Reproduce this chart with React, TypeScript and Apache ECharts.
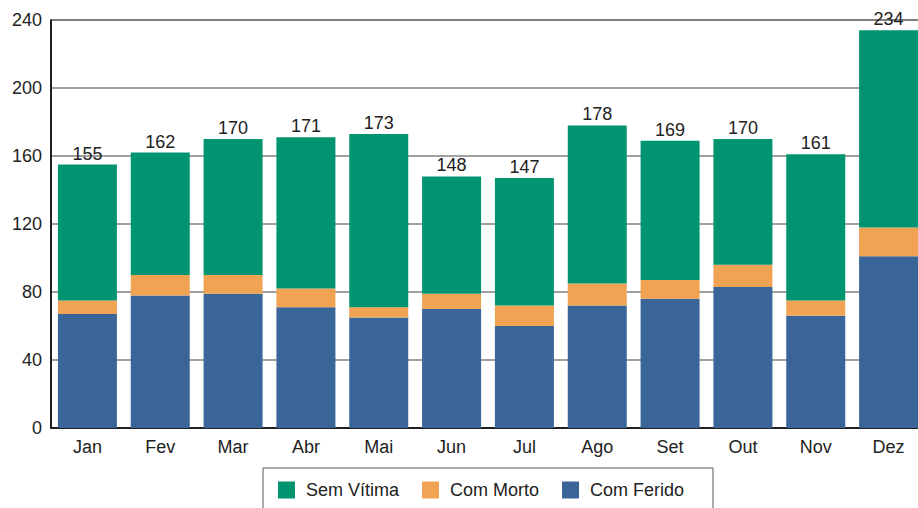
import React, { useEffect, useRef } from "react";
import * as echarts from "echarts";

const months = ["Jan", "Fev", "Mar", "Abr", "Mai", "Jun", "Jul", "Ago", "Set", "Out", "Nov", "Dez"];
const comFerido = [67, 78, 79, 71, 65, 70, 60, 72, 76, 83, 66, 101];
const comMorto = [8, 12, 11, 11, 6, 9, 12, 13, 11, 13, 9, 17];
const semVitima = [80, 72, 80, 89, 102, 69, 75, 93, 82, 74, 86, 116];
const yTicks = { min: 0, max: 240, interval: 40 };

const totals = months.map((_, i) => comFerido[i] + comMorto[i] + semVitima[i]);

const FONT = "'Liberation Sans', Arial, sans-serif";

export default function App() {
  const ref = useRef<HTMLDivElement>(null);
  useEffect(() => {
    if (!ref.current) return;
    const chart = echarts.init(ref.current, null, { renderer: "svg" });
    chart.setOption({
      animation: false,
      backgroundColor: "#fff",
      textStyle: { fontFamily: FONT },
      grid: {
        left: 51,
        top: 20,
        right: -7,
        bottom: 80,
        outerBoundsMode: "none",
        containLabel: false,
        show: true,
        borderColor: "#000",
        borderWidth: 1,
        backgroundColor: "transparent",
      },
      legend: {
        data: ["Sem Vítima", "Com Morto", "Com Ferido"],
        left: 278,
        top: 481,
        padding: 0,
        itemWidth: 17,
        itemHeight: 17,
        itemGap: 23,
        icon: "rect",
        textStyle: { fontSize: 18, color: "#222", fontFamily: FONT, padding: [0, 0, 0, 6] },
      },
      graphic: [
        {
          type: "rect",
          shape: { x: 263, y: 468, width: 450, height: 50 },
          style: { fill: "none", stroke: "#555", lineWidth: 1 },
          silent: true,
          z: -1,
        },
      ],
      xAxis: {
        type: "category",
        data: months,
        axisLine: { lineStyle: { color: "#000", width: 1.5 } },
        axisTick: { show: false },
        axisLabel: { fontSize: 18, color: "#222", margin: 10, fontFamily: FONT },
      },
      yAxis: {
        type: "value",
        min: yTicks.min,
        max: yTicks.max,
        interval: yTicks.interval,
        axisLine: { show: true, lineStyle: { color: "#000", width: 1.5 } },
        axisTick: { show: false },
        axisLabel: { fontSize: 18, color: "#222", margin: 9, fontFamily: FONT },
        splitLine: { lineStyle: { color: "#808080", width: 1.5 } },
      },
      series: [
        {
          name: "Com Ferido",
          type: "bar",
          stack: "total",
          data: comFerido,
          barCategoryGap: "19%",
          itemStyle: { color: "#3A6598" },
        },
        {
          name: "Com Morto",
          type: "bar",
          stack: "total",
          data: comMorto,
          itemStyle: { color: "#F0A352" },
        },
        {
          name: "Sem Vítima",
          type: "bar",
          stack: "total",
          data: semVitima,
          itemStyle: { color: "#009470" },
          label: {
            show: true,
            position: "top",
            distance: 2,
            fontSize: 18,
            color: "#222",
            fontFamily: FONT,
            formatter: (p: any) => String(totals[p.dataIndex]),
          },
        },
      ],
    });
    return () => chart.dispose();
  }, []);
  return (
    <div
      ref={ref}
      style={{ position: "fixed", left: 0, top: 0, width: 918, height: 508 }}
    />
  );
}
